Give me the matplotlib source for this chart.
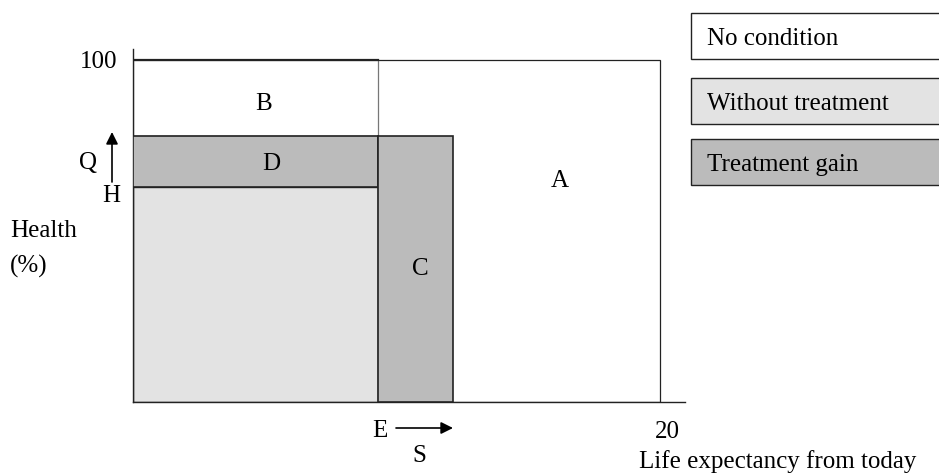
import matplotlib.pyplot as plt
from matplotlib.patches import Rectangle

plt.rcParams['font.family'] = ['Liberation Serif', 'DejaVu Serif']

# values
max_life = 20        # life expectancy with no condition
max_health = 100     # full health
E = 9.3              # life expectancy without treatment
S = 12.15            # life expectancy with treatment
H = 63.0             # health without treatment
Q = 77.8             # health with treatment

light_grey = '#e3e3e3'
dark_grey = '#bbbbbb'

legend_labels = ['No condition', 'Without treatment', 'Treatment gain']
legend_colors = ['white', light_grey, dark_grey]

fig = plt.figure(figsize=(9.39, 4.73), dpi=100)
ax = fig.add_axes([133 / 939, 1 - 402 / 473, (685 - 133) / 939, (402 - 49) / 473])
ax.set_xlim(0, 20.95)
ax.set_ylim(0, 103.2)
for side in ['top', 'right']:
    ax.spines[side].set_visible(False)
for side in ['left', 'bottom']:
    ax.spines[side].set_color('#222222')
    ax.spines[side].set_linewidth(1.0)
ax.set_xticks([])
ax.set_yticks([])

# A: whole area with no condition
ax.add_patch(Rectangle((0, 0), max_life, max_health, facecolor='white',
                       edgecolor='#222222', linewidth=0.9, zorder=1))
# B: white top-left part
ax.add_patch(Rectangle((0, Q), E, max_health - Q, facecolor='white',
                       edgecolor='#777777', linewidth=0.9, zorder=2))
ax.plot([0, E], [max_health, max_health], color='#222222', linewidth=1.6, zorder=3)
# without treatment
ax.add_patch(Rectangle((0, 0), E, H, facecolor=light_grey,
                       edgecolor='#222222', linewidth=1.0, zorder=2))
# D: quality gain
ax.add_patch(Rectangle((0, H), E, Q - H, facecolor=dark_grey,
                       edgecolor='#222222', linewidth=1.2, zorder=3))
# C: survival gain
ax.add_patch(Rectangle((E, 0), S - E, Q, facecolor=dark_grey,
                       edgecolor='#222222', linewidth=1.2, zorder=3))

fs = 18
ax.text(16.2, 64.5, 'A', fontsize=fs, ha='center', va='center')
ax.text(4.94, 87.0, 'B', fontsize=fs, ha='center', va='center')
ax.text(10.9, 38.8, 'C', fontsize=fs, ha='center', va='center')
ax.text(5.24, 69.5, 'D', fontsize=fs, ha='center', va='center')

# labels outside the axes, placed in pixel-based figure coords
def fx(px):
    return px / 939

def fy(py):
    return 1 - py / 473

fig.text(fx(117), fy(62), '100', fontsize=fs, ha='right', va='center')
fig.text(fx(667), fy(432), '20', fontsize=fs, ha='center', va='center')
fig.text(fx(639), fy(462), 'Life expectancy from today', fontsize=fs,
         ha='left', va='center')
fig.text(fx(10), fy(231), 'Health', fontsize=fs, ha='left', va='center')
fig.text(fx(10), fy(266), '(%)', fontsize=fs, ha='left', va='center')

fig.text(fx(380), fy(431), 'E', fontsize=fs, ha='center', va='center')
fig.text(fx(419), fy(456), 'S', fontsize=fs, ha='center', va='center')
fig.text(fx(88), fy(163), 'Q', fontsize=fs, ha='center', va='center')
fig.text(fx(111), fy(196), 'H', fontsize=fs, ha='center', va='center')

fig.add_artist(plt.Annotation('', xy=(fx(453), fy(428)), xytext=(fx(396), fy(428)),
                              xycoords='figure fraction',
                              arrowprops=dict(arrowstyle='-|>', color='black',
                                              lw=1.2, mutation_scale=18,
                                              shrinkA=0, shrinkB=0)))
fig.add_artist(plt.Annotation('', xy=(fx(112), fy(132)), xytext=(fx(112), fy(182)),
                              xycoords='figure fraction',
                              arrowprops=dict(arrowstyle='-|>', color='black',
                                              lw=1.2, mutation_scale=18,
                                              shrinkA=0, shrinkB=0)))

# legend boxes on the right, running off the edge
box_tops = [13, 78, 139]
for top, label, color in zip(box_tops, legend_labels, legend_colors):
    fig.add_artist(Rectangle((fx(691), fy(top + 46)), 0.3, 46 / 473,
                             transform=fig.transFigure, facecolor=color,
                             edgecolor='#222222', linewidth=1.0))
    fig.text(fx(707), fy(top + 32), label, fontsize=fs, ha='left', va='baseline')

fig.savefig('out.png', dpi=100)
